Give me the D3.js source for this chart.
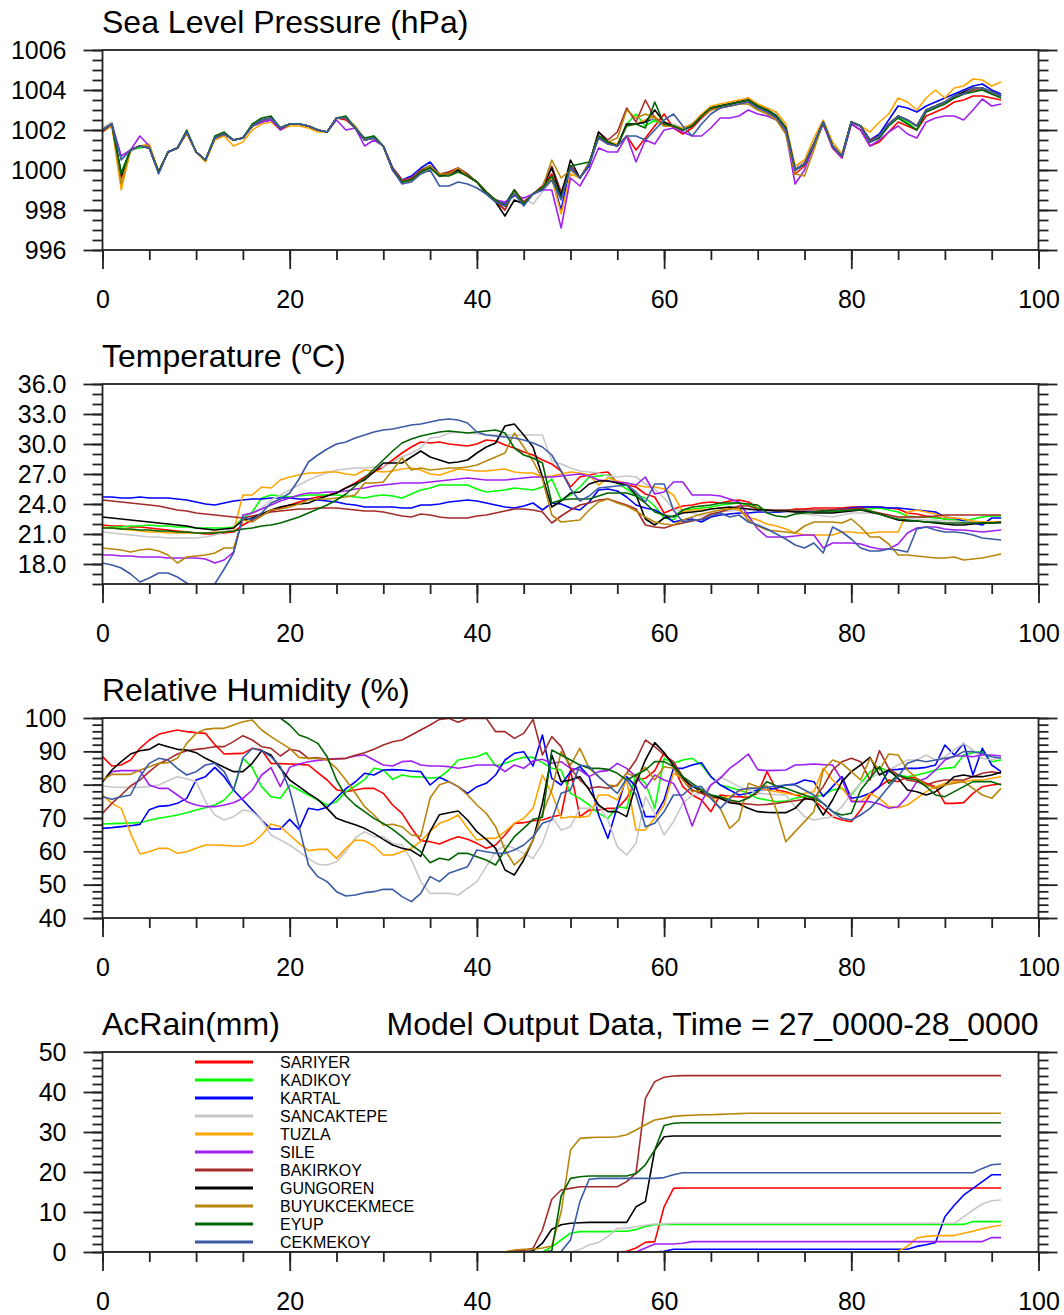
<!doctype html>
<html>
<head>
<meta charset="utf-8">
<title>Model Output Data, Time = 27_0000-28_0000</title>
<script src="https://d3js.org/d3.v7.min.js"></script>
<style>
  body { margin: 0; background: #fff; }
  svg text { font-family: "Liberation Sans", Arial, Helvetica, sans-serif; fill: #000; }
</style>
</head>
<body>
<script>
// ---- data: hourly values, one array per station ----
const hours = d3.range(0, 97);
const stations = ["SARIYER", "KADIKOY", "KARTAL", "SANCAKTEPE", "TUZLA", "SILE",
                  "BAKIRKOY", "GUNGOREN", "BUYUKCEKMECE", "EYUP", "CEKMEKOY"];
const colors = ["#ff0000", "#00ff00", "#0000ff", "#c8c8c8", "#ffa500", "#a020f0",
                "#a52a2a", "#000000", "#b8860b", "#006400", "#3b5ba5"];

const xTicks = [0, 20, 40, 60, 80, 100];
const slpTicks = [996, 998, 1000, 1002, 1004, 1006];
const tempTicks = [18, 21, 24, 27, 30, 33, 36];
const rhTicks = [40, 50, 60, 70, 80, 90, 100];
const rainTicks = [0, 10, 20, 30, 40, 50];

// sea level pressure (hPa)
const slpSariyer = [1001.9,1002.3,999.6,1001.0,1001.2,1001.1,999.9,1000.9,1001.1,1001.9,
1000.9,1000.5,1001.6,1001.8,1001.5,1001.6,1002.2,1002.5,1002.6,1002.1,
1002.3,1002.3,1002.2,1002.0,1001.9,1002.6,1002.5,1002.1,1001.5,1001.6,
1001.2,1000.1,999.5,999.6,999.9,1000.2,999.7,999.9,1000.1,999.7,
999.4,998.9,998.4,998.0,999.0,998.3,998.8,999.2,999.8,998.6,
1000.2,999.6,1000.3,1001.6,1001.3,1001.2,1001.7,1001.0,1001.6,1002.2,
1002.8,1002.1,1001.8,1002.1,1002.6,1003.0,1003.1,1003.2,1003.3,1003.4,
1003.1,1002.9,1002.6,1002.0,999.8,1000.2,1001.2,1002.3,1001.1,1000.6,
1002.3,1002.0,1001.2,1001.4,1001.9,1002.4,1002.2,1002.0,1002.7,1002.9,
1003.1,1003.4,1003.5,1003.7,1003.7,1003.6,1003.5];
const slpKadikoy = [1002.0,1002.2,999.9,1001.0,1001.1,1001.2,999.9,1000.9,1001.1,1001.9,
1000.9,1000.5,1001.6,1001.8,1001.5,1001.6,1002.2,1002.5,1002.6,1002.1,
1002.3,1002.3,1002.2,1002.0,1001.9,1002.6,1002.6,1002.1,1001.5,1001.7,
1001.2,1000.0,999.4,999.5,1000.0,1000.2,999.7,999.8,1000.0,999.8,
999.4,998.9,998.5,998.2,999.0,998.3,998.8,999.1,999.6,998.6,
1000.1,999.6,1000.3,1001.7,1001.4,1001.2,1002.3,1002.8,1002.2,1002.5,
1002.2,1002.2,1002.0,1002.2,1002.7,1003.1,1003.2,1003.3,1003.4,1003.5,
1003.2,1003.0,1002.7,1002.1,1000.0,1000.3,1001.3,1002.4,1001.2,1000.7,
1002.4,1002.2,1001.4,1001.7,1002.3,1002.7,1002.4,1002.0,1003.0,1003.2,
1003.4,1003.6,1003.8,1004.0,1004.1,1003.9,1003.7];
const slpKartal = [1002.0,1002.3,999.8,1001.0,1001.2,1001.1,999.9,1000.9,1001.1,1001.9,
1000.9,1000.5,1001.6,1001.8,1001.5,1001.6,1002.2,1002.4,1002.5,1002.1,
1002.3,1002.3,1002.2,1002.0,1001.9,1002.6,1002.6,1002.1,1001.5,1001.6,
1001.2,1000.1,999.5,999.7,1000.1,1000.4,999.8,999.8,1000.0,999.7,
999.4,998.9,998.5,998.3,999.0,998.4,998.8,999.1,999.6,998.0,
1000.2,999.6,1000.2,1001.7,1001.4,1001.2,1002.3,1002.3,1002.4,1002.6,
1002.2,1002.2,1002.0,1002.2,1002.7,1003.1,1003.2,1003.3,1003.4,1003.6,
1003.2,1003.0,1002.8,1002.2,1000.1,1000.4,1001.3,1002.4,1001.2,1000.7,
1002.4,1002.2,1001.5,1001.8,1002.5,1003.2,1003.1,1002.9,1003.2,1003.4,
1003.6,1003.8,1004.0,1004.2,1004.3,1004.0,1003.8];
const slpSancaktepe = [1002.1,1002.4,1000.6,1000.9,1001.2,1001.1,999.9,1000.9,1001.1,1001.9,
1000.9,1000.5,1001.6,1001.8,1001.5,1001.6,1002.2,1002.5,1002.6,1002.1,
1002.3,1002.3,1002.2,1002.0,1001.9,1002.6,1002.6,1002.1,1001.5,1001.6,
1001.2,1000.0,999.4,999.5,999.9,1000.2,999.7,999.8,1000.0,999.7,
999.4,998.9,998.5,998.4,998.7,998.6,998.3,998.9,999.5,998.9,
1000.0,999.6,1000.3,1001.7,1001.4,1001.3,1002.3,1002.3,1002.5,1002.6,
1002.2,1002.3,1002.1,1002.3,1002.7,1003.1,1003.3,1003.4,1003.5,1003.5,
1003.3,1003.1,1002.8,1002.2,1000.1,1000.4,1001.3,1002.4,1001.2,1000.7,
1002.4,1002.2,1001.4,1001.7,1002.3,1002.7,1002.5,1002.2,1003.0,1003.2,
1003.4,1003.7,1003.8,1004.0,1004.0,1003.8,1003.7];
const slpTuzla = [1001.9,1002.2,999.0,1001.0,1001.2,1001.3,999.9,1000.9,1001.1,1001.8,
1000.9,1000.4,1001.5,1001.7,1001.2,1001.4,1002.0,1002.3,1002.4,1002.0,
1002.2,1002.2,1002.1,1001.9,1001.9,1002.6,1002.6,1002.1,1001.5,1001.6,
1001.2,1000.0,999.4,999.5,999.9,1000.1,999.7,999.8,1000.0,999.7,
999.4,998.9,998.5,998.2,999.0,998.4,998.8,999.1,999.6,997.8,
999.8,999.6,1000.3,1001.7,1001.4,1001.3,1002.2,1002.3,1002.5,1002.7,
1002.2,1002.2,1002.1,1002.3,1002.8,1003.2,1003.3,1003.4,1003.5,1003.6,
1003.3,1003.1,1002.9,1002.3,1000.2,1000.5,1001.6,1002.5,1001.4,1000.8,
1002.4,1002.2,1001.9,1002.4,1002.8,1003.6,1003.4,1003.0,1003.6,1004.0,
1003.6,1004.1,1004.2,1004.55,1004.5,1004.2,1004.4];
const slpSile = [1002.0,1002.3,1000.7,1001.0,1001.7,1001.2,999.9,1000.9,1001.1,1001.9,
1000.9,1000.5,1001.6,1001.8,1001.5,1001.6,1002.2,1002.4,1002.5,1002.0,
1002.3,1002.3,1002.2,1002.0,1001.9,1002.5,1002.0,1002.1,1001.2,1001.5,
1001.2,1000.0,999.5,999.6,999.9,1000.2,999.7,999.8,1000.0,999.7,
999.4,998.9,998.5,998.4,998.7,998.6,998.8,999.0,999.0,997.1,
999.6,999.2,1000.0,1001.1,1000.9,1000.9,1001.7,1000.4,1001.5,1001.3,
1002.0,1002.1,1001.9,1001.7,1001.7,1002.1,1002.6,1002.6,1002.7,1003.0,
1002.8,1002.7,1002.5,1001.9,999.3,1000.0,1001.2,1002.3,1001.1,1000.6,
1002.3,1002.0,1001.2,1001.5,1001.9,1002.2,1001.8,1001.6,1002.4,1002.6,
1002.7,1002.7,1002.5,1003.0,1003.55,1003.2,1003.3];
const slpBakirkoy = [1001.9,1002.3,999.7,1001.0,1001.2,1001.1,999.9,1000.9,1001.1,1001.9,
1000.9,1000.5,1001.6,1001.8,1001.5,1001.6,1002.2,1002.5,1002.6,1002.1,
1002.3,1002.3,1002.2,1002.0,1001.9,1002.6,1002.6,1002.1,1001.5,1001.6,
1001.2,1000.1,999.5,999.6,1000.0,1000.2,999.8,999.9,1000.1,999.8,
999.4,998.9,998.5,998.0,999.0,998.4,998.8,999.2,1000.2,998.9,
1000.2,999.6,1000.3,1001.9,1001.5,1001.9,1003.1,1002.4,1003.5,1002.6,
1002.3,1002.2,1002.0,1002.2,1002.7,1003.1,1003.2,1003.3,1003.4,1003.5,
1003.2,1003.0,1002.7,1002.1,1000.0,1000.3,1001.3,1002.4,1001.2,1000.7,
1002.4,1002.2,1001.5,1001.7,1002.3,1002.7,1002.5,1002.2,1003.0,1003.2,
1003.4,1003.6,1003.8,1004.0,1004.0,1003.9,1003.7];
const slpGungoren = [1002.0,1002.3,999.7,1001.0,1001.2,1001.1,999.9,1000.9,1001.1,1001.9,
1000.9,1000.5,1001.6,1001.8,1001.5,1001.6,1002.2,1002.5,1002.6,1002.1,
1002.3,1002.3,1002.2,1002.0,1001.9,1002.6,1002.6,1002.1,1001.5,1001.6,
1001.2,1000.0,999.4,999.5,999.9,1000.2,999.7,999.8,1000.0,999.7,
999.4,998.8,998.4,997.7,998.5,998.3,998.8,999.1,1000.1,998.7,
1000.5,999.6,1000.3,1001.9,1001.4,1001.2,1002.3,1002.3,1002.4,1003.0,
1002.4,1002.2,1002.0,1002.2,1002.7,1003.1,1003.2,1003.3,1003.4,1003.5,
1003.2,1003.0,1002.7,1002.1,1000.0,1000.3,1001.3,1002.4,1001.2,1000.7,
1002.4,1002.2,1001.4,1001.7,1002.3,1002.7,1002.5,1002.2,1003.0,1003.2,
1003.4,1003.7,1003.9,1004.1,1004.1,1003.9,1003.7];
const slpBuyukcekmece = [1002.0,1002.3,999.3,1001.0,1001.2,1001.2,999.9,1000.9,1001.1,1001.9,
1000.9,1000.5,1001.6,1001.8,1001.5,1001.6,1002.2,1002.5,1002.6,1002.1,
1002.3,1002.3,1002.2,1002.0,1001.9,1002.6,1002.6,1002.2,1001.5,1001.6,
1001.2,1000.0,999.4,999.5,999.9,1000.2,999.8,999.8,1000.1,999.7,
999.4,998.9,998.5,998.2,998.9,998.3,998.8,999.1,1000.5,999.6,
1000.0,999.6,1000.4,1001.7,1001.4,1001.6,1003.0,1002.6,1002.8,1002.6,
1002.2,1002.2,1002.0,1002.3,1002.7,1003.0,1003.1,1003.2,1003.3,1003.3,
1003.0,1002.8,1002.5,1001.8,999.8,999.7,1001.0,1002.4,1001.2,1000.7,
1002.4,1002.2,1001.4,1001.7,1002.3,1002.7,1002.5,1002.2,1003.0,1003.2,
1003.4,1003.7,1003.8,1004.1,1004.1,1003.9,1003.7];
const slpEyup = [1002.0,1002.3,999.8,1001.0,1001.2,1001.1,999.9,1000.9,1001.1,1002.0,
1000.9,1000.5,1001.7,1001.9,1001.5,1001.6,1002.3,1002.6,1002.7,1002.1,
1002.3,1002.3,1002.2,1002.0,1001.9,1002.6,1002.7,1002.1,1001.6,1001.7,
1001.2,1000.0,999.4,999.5,999.9,1000.1,999.7,999.7,999.9,999.7,
999.4,998.9,998.5,998.2,999.0,998.3,998.8,999.1,999.7,998.6,
1000.2,1000.3,1000.4,1001.7,1001.4,1001.2,1002.2,1002.3,1002.1,1003.4,
1002.3,1002.2,1002.0,1002.2,1002.7,1003.1,1003.2,1003.3,1003.4,1003.5,
1003.2,1003.0,1002.7,1002.1,1000.0,1000.3,1001.3,1002.4,1001.2,1000.7,
1002.4,1002.2,1001.4,1001.6,1002.2,1002.6,1002.3,1002.0,1002.9,1003.1,
1003.3,1003.6,1003.8,1003.9,1004.0,1003.8,1003.6];
const slpCekmekoy = [1002.0,1002.3,1000.5,1001.0,1001.2,1001.1,999.8,1000.9,1001.1,1001.9,
1000.9,1000.5,1001.6,1001.8,1001.5,1001.6,1002.2,1002.5,1002.6,1002.1,
1002.3,1002.3,1002.2,1002.0,1001.9,1002.6,1002.6,1002.1,1001.5,1001.6,
1001.2,1000.0,999.3,999.4,999.8,1000.0,999.2,999.2,999.4,999.3,
999.1,998.8,998.4,998.2,998.8,998.2,998.8,999.0,999.5,998.5,
1000.1,999.6,1000.3,1001.6,1001.3,1001.2,1001.7,1001.7,1001.5,1002.0,
1002.5,1002.8,1002.2,1001.7,1002.3,1002.8,1003.1,1003.2,1003.3,1003.4,
1003.1,1002.9,1002.6,1002.0,1000.0,1000.3,1001.3,1002.4,1001.2,1000.7,
1002.4,1002.2,1001.4,1001.7,1002.3,1002.7,1002.5,1002.2,1003.0,1003.2,
1003.4,1003.7,1003.8,1004.1,1004.1,1003.9,1003.7];

// temperature (deg C)
const tempSariyer = [21.9,21.8,21.8,21.7,21.7,21.6,21.5,21.4,21.3,21.2,
21.1,21.0,21.0,21.1,21.2,21.9,22.4,22.9,23.3,23.6,
23.9,24.2,24.5,24.7,24.9,25.1,25.6,26.1,26.7,27.2,
27.7,28.4,29.1,29.7,30.2,30.1,30.2,30.0,29.9,29.8,
30.0,30.4,30.3,29.9,29.6,29.2,28.9,28.4,28.0,27.3,
25.7,26.7,26.9,27.1,27.2,26.1,25.9,25.7,25.0,24.7,
23.1,23.5,23.8,23.9,24.1,24.2,24.1,24.3,24.4,24.2,
23.6,23.3,23.2,23.3,23.5,23.5,23.6,23.6,23.6,23.6,
23.7,23.7,23.7,23.7,23.6,23.5,23.1,23.0,22.8,22.7,
22.5,22.4,22.2,22.2,22.2,22.2,22.2];
const tempKadikoy = [21.6,21.7,21.7,21.8,21.8,21.9,21.8,21.8,21.7,21.7,
21.6,21.6,21.6,21.6,21.7,22.6,23.2,24.6,24.9,24.8,
24.7,24.8,24.9,24.9,24.9,24.9,24.8,24.7,24.6,24.8,
24.9,24.8,24.6,25.0,25.4,25.6,25.9,25.9,25.9,25.9,
25.5,25.2,25.3,25.4,25.6,25.5,25.4,25.7,26.5,24.4,
24.9,25.7,26.7,26.8,26.9,26.1,25.5,24.9,24.6,23.8,
22.6,22.4,23.4,23.5,23.6,23.7,23.9,24.0,24.1,23.9,
23.6,23.4,23.2,23.3,23.3,23.2,23.2,23.2,23.2,23.3,
23.4,23.5,23.5,23.6,23.4,23.2,22.8,22.7,22.7,22.6,
22.5,22.4,22.3,22.5,22.7,22.8,22.8];
const tempKartal = [24.7,24.7,24.6,24.6,24.7,24.6,24.6,24.6,24.5,24.4,
24.2,24.0,23.9,24.1,24.3,24.4,24.5,24.5,24.6,24.6,
24.6,24.5,24.5,24.4,24.3,24.2,24.0,23.9,23.7,23.7,
23.7,23.7,23.6,23.6,23.9,23.9,24.0,24.2,24.3,24.4,
24.3,24.1,23.9,23.7,23.6,23.8,24.1,23.4,24.1,24.0,
23.6,23.4,24.2,25.4,25.5,25.3,24.7,23.9,23.6,23.4,
22.9,22.2,22.4,22.5,22.2,22.7,22.9,23.0,23.1,23.1,
23.2,23.2,23.2,23.2,23.2,23.2,23.2,23.3,23.4,23.5,
23.6,23.7,23.7,23.7,23.6,23.6,23.5,23.4,23.3,23.2,
22.7,22.6,22.3,22.1,21.9,22.6,22.6];
const tempSancaktepe = [21.2,21.1,21.0,20.9,20.8,20.7,20.7,20.6,20.6,20.6,
20.6,20.7,20.9,21.2,21.6,22.4,23.1,23.6,24.4,24.9,
25.4,25.9,26.4,26.8,27.1,27.4,27.5,27.6,27.6,27.7,
27.7,28.2,28.7,29.1,29.6,30.6,30.7,31.1,31.2,31.1,
31.0,30.9,30.9,30.9,30.9,30.9,30.9,30.9,28.3,28.0,
27.6,27.3,27.2,27.1,26.8,26.7,26.8,26.7,26.0,25.5,
24.6,23.5,23.2,23.1,22.8,23.0,23.2,23.3,23.4,23.4,
23.4,23.3,23.3,23.2,23.1,23.0,22.9,22.8,22.7,22.9,
23.1,23.1,23.1,23.0,22.9,22.7,22.6,22.5,22.4,22.4,
22.3,22.3,22.2,22.2,22.2,22.2,22.2];
const tempTuzla = [21.7,21.6,21.5,21.4,21.3,21.2,21.2,21.1,21.1,21.1,
21.1,21.1,21.2,21.2,21.3,24.9,24.9,25.7,25.6,26.4,
26.7,26.9,27.1,27.1,27.2,27.2,27.0,26.9,27.4,27.3,
27.2,27.3,27.5,27.6,27.4,27.0,26.9,27.2,27.5,27.4,
27.3,27.3,27.4,27.5,27.2,27.1,27.1,26.7,26.8,27.0,
27.2,27.1,26.9,25.9,26.6,26.3,26.1,25.9,25.7,25.7,
25.5,24.9,23.2,23.4,23.4,23.5,23.6,23.6,23.4,22.7,
22.4,22.0,21.8,21.5,21.1,20.9,20.9,20.9,20.9,21.2,
21.2,21.1,21.1,21.2,21.2,21.2,23.2,23.4,23.2,23.0,
22.7,22.6,22.5,22.3,22.2,22.2,22.2];
const tempSile = [18.9,18.9,18.8,18.8,18.7,18.7,18.7,18.6,18.6,18.6,
18.6,18.5,18.1,18.4,19.2,22.9,23.1,23.5,23.9,24.3,
24.6,24.9,25.1,25.1,25.2,25.2,25.3,25.5,25.6,25.8,
25.9,26.0,26.1,26.1,26.1,26.2,26.3,26.4,26.5,26.6,
26.5,26.4,26.4,26.4,26.5,26.6,26.7,26.7,26.7,26.8,
26.9,27.0,26.8,26.4,26.3,26.2,26.1,25.9,26.7,25.0,
25.2,26.2,26.2,24.9,24.9,24.9,24.8,24.5,24.2,22.8,
21.5,20.7,20.7,20.7,20.8,20.9,20.9,19.6,20.1,20.1,
20.1,20.0,19.7,19.5,19.5,20.0,21.1,21.6,21.7,21.7,
21.5,21.4,21.4,21.3,21.2,21.3,21.4];
const tempBakirkoy = [24.4,24.3,24.2,24.1,24.0,23.9,23.8,23.6,23.4,23.3,
23.1,23.0,22.9,22.8,22.7,22.6,22.8,23.0,23.2,23.3,
23.4,23.5,23.5,23.6,23.6,23.6,23.5,23.4,23.3,23.3,
23.2,23.0,22.8,22.7,23.0,22.9,22.7,22.6,22.6,22.6,
22.8,22.9,23.1,23.3,23.5,23.5,23.4,23.2,22.1,22.8,
23.4,23.9,24.1,24.4,24.5,24.2,23.9,23.5,21.9,21.7,
21.6,21.9,22.1,22.3,22.5,23.0,23.2,23.5,23.8,23.8,
23.5,23.4,23.4,23.4,23.4,23.4,23.4,23.4,23.4,23.5,
23.5,23.6,23.3,23.1,22.9,22.7,22.7,22.7,22.7,22.8,
22.9,22.9,22.9,22.9,22.9,22.9,22.9];
const tempGungoren = [22.7,22.6,22.5,22.4,22.3,22.2,22.1,22.0,21.9,21.8,
21.6,21.5,21.4,21.5,21.6,22.4,22.6,23.0,23.4,23.7,
23.9,24.0,24.1,24.5,24.8,25.1,25.6,26.0,26.4,27.2,
28.1,28.1,28.1,28.7,29.3,28.7,28.4,28.1,28.2,28.4,
29.1,29.7,30.1,31.8,32.0,30.9,29.7,26.7,23.7,24.3,
25.1,25.2,26.0,26.3,26.3,26.1,25.9,24.9,22.5,21.9,
22.6,22.8,23.1,23.2,23.3,23.5,23.6,23.7,23.6,23.5,
23.4,23.4,23.3,23.3,23.2,23.2,23.1,23.1,23.1,23.2,
23.3,23.4,23.2,23.0,22.7,22.4,22.3,22.3,22.2,22.1,
22.0,21.9,21.9,22.0,22.1,22.1,22.2];
const tempBuyukcekmece = [19.6,19.5,19.4,19.2,19.4,19.5,19.3,18.9,18.1,18.7,
18.8,18.9,19.1,19.6,19.6,22.4,22.2,22.8,23.4,23.5,
23.7,24.0,24.4,24.5,24.5,24.6,24.7,24.9,26.1,26.1,
26.2,27.4,28.6,27.4,27.6,27.4,27.5,27.6,27.6,27.7,
27.9,28.3,28.7,29.1,31.1,29.7,28.3,26.5,22.9,22.2,
22.3,22.4,23.4,24.2,24.5,24.1,23.8,23.3,22.7,22.2,
22.0,21.9,22.4,22.7,23.0,23.2,23.4,23.5,23.6,22.4,
21.8,21.4,21.3,21.2,21.1,21.8,22.2,22.2,22.2,22.1,
22.5,21.7,20.7,20.7,20.0,18.9,18.9,18.8,18.7,18.6,
18.6,18.7,18.4,18.5,18.6,18.8,19.0];
const tempEyup = [21.6,21.6,21.5,21.5,21.4,21.4,21.3,21.3,21.2,21.2,
21.1,21.1,21.1,21.2,21.3,21.5,21.6,21.8,21.9,22.1,
22.4,22.7,23.1,23.5,23.9,24.4,25.0,25.8,26.6,27.5,
28.4,29.3,30.1,30.5,30.8,31.0,31.2,31.3,31.2,31.1,
31.2,31.3,31.4,31.1,29.6,28.9,28.6,28.1,24.1,24.4,
24.5,24.5,24.5,24.8,25.1,25.1,25.1,24.8,24.1,23.2,
22.9,22.7,23.4,23.7,23.8,23.9,24.1,24.1,24.1,24.0,
23.9,23.1,22.8,22.7,23.0,23.1,23.2,23.3,23.3,23.3,
23.4,23.4,23.3,23.0,22.7,22.5,22.4,22.3,22.2,22.2,
22.1,22.1,22.1,22.1,22.1,22.1,22.1];
const tempCekmekoy = [18.1,17.9,17.6,17.0,16.2,16.6,17.1,17.1,16.7,16.1,
15.4,15.2,16.0,17.5,19.1,22.7,22.4,23.1,24.1,24.5,
25.1,26.5,28.2,28.9,29.5,30.0,30.2,30.6,30.9,31.2,
31.4,31.5,31.7,31.9,32.0,32.2,32.4,32.5,32.4,32.1,
31.2,30.9,30.8,30.7,30.6,30.4,30.1,29.7,28.9,27.3,
25.5,24.3,24.8,25.6,25.7,25.8,25.9,25.2,24.2,26.0,
26.0,23.4,22.2,22.4,22.4,22.8,23.1,22.7,22.9,22.2,
21.9,21.5,21.0,20.5,19.9,19.6,20.1,19.1,21.7,21.2,
20.5,19.6,19.3,19.3,19.5,19.4,19.2,21.5,21.7,21.4,
21.2,21.2,21.1,20.9,20.6,20.5,20.4];

// relative humidity (%)
const rhSariyer = [88.4,85.6,85.9,87.4,90.9,93.4,95.1,95.8,96.4,95.9,
95.6,95.4,92.0,89.2,89.3,89.4,90.9,90.4,86.4,86.3,
86.2,86.1,85.9,83.6,81.4,78.5,77.9,78.4,78.9,78.9,
77.4,73.9,71.4,67.0,63.2,62.9,62.2,63.4,64.4,63.6,
62.4,60.9,61.9,64.9,68.4,68.6,69.2,69.4,70.4,70.9,
84.4,70.4,72.4,72.4,72.9,72.9,75.9,81.4,81.9,84.2,
89.6,85.4,79.4,76.9,75.4,71.9,76.9,76.5,76.4,76.2,
77.4,83.9,78.4,77.9,76.9,76.2,75.4,72.9,70.4,69.4,
68.9,72.4,76.9,79.4,81.4,80.9,82.4,81.9,80.4,79.4,
74.4,74.4,74.6,77.4,79.4,79.9,80.2];
const rhKadikoy = [68.2,68.3,68.4,68.5,68.6,69.3,69.9,70.4,70.9,71.6,
72.4,73.1,73.9,75.4,78.4,87.9,85.2,79.4,76.4,75.9,
79.9,78.4,76.9,75.4,73.9,74.9,77.9,79.6,81.5,84.9,
84.4,81.6,82.9,82.4,82.3,82.0,82.2,84.4,87.4,87.9,
88.4,89.6,85.6,86.4,87.4,88.2,88.2,86.6,84.9,84.4,
77.4,75.9,73.9,71.4,69.9,73.4,72.9,83.2,80.4,72.9,
87.9,86.4,87.4,87.9,85.9,82.4,79.9,79.2,78.4,77.4,
75.9,75.4,74.9,75.1,75.9,76.4,76.4,76.9,78.4,78.9,
76.9,80.4,83.9,85.2,83.9,82.9,82.4,82.9,83.6,84.4,
84.9,85.2,88.9,89.6,89.9,86.9,87.4];
const rhKartal = [66.9,67.1,67.4,67.7,68.1,72.5,73.5,73.7,74.4,75.9,
81.4,82.4,85.2,82.4,78.4,75.4,72.4,69.4,66.7,66.7,
69.6,66.6,72.9,72.4,73.2,76.0,78.8,80.8,83.4,82.9,
84.4,84.5,84.4,84.1,83.9,79.9,82.2,80.9,79.4,77.4,
79.4,80.4,82.9,87.4,89.4,89.9,85.6,94.9,81.9,79.9,
83.9,85.4,82.4,70.9,63.9,73.4,82.4,79.4,70.4,70.4,
75.4,84.9,84.9,85.9,86.6,82.4,79.9,78.4,76.9,77.4,
78.4,78.6,78.9,79.9,80.2,81.4,80.9,76.4,79.4,82.4,
75.9,76.4,77.4,79.4,84.4,84.6,84.9,84.9,85.2,85.9,
91.9,88.9,92.4,82.9,90.9,85.9,83.9];
const rhSancaktepe = [79.6,79.3,79.2,79.2,79.2,79.5,79.9,81.2,82.4,81.8,
80.9,74.9,70.9,69.4,70.4,72.4,71.9,69.4,64.9,63.4,
61.9,59.9,57.9,56.1,55.9,56.9,59.9,64.0,65.9,64.4,
64.4,62.4,61.9,57.5,50.9,47.4,47.4,47.4,46.9,48.9,
50.9,55.4,59.9,61.9,60.9,59.4,57.9,62.4,70.4,66.4,
67.4,72.9,72.9,73.9,69.4,61.4,58.9,62.4,76.4,71.4,
64.9,68.9,74.4,76.9,77.4,79.9,82.4,80.9,79.4,78.4,
77.4,77.2,77.0,76.9,73.4,70.4,69.4,69.9,70.4,73.4,
77.4,80.4,81.9,83.4,84.4,85.9,87.4,87.4,88.9,87.4,
88.4,90.4,92.4,90.4,87.9,87.4,88.2];
const rhTuzla = [76.9,74.4,72.9,65.4,59.2,59.9,60.9,60.9,59.4,59.9,
60.9,61.9,61.9,61.8,61.6,61.6,62.4,64.9,68.2,67.4,
64.9,62.4,60.2,60.6,60.6,57.9,60.9,63.4,63.2,61.6,
58.9,58.9,59.9,60.9,63.0,66.0,68.4,69.4,70.9,66.9,
63.4,63.9,63.9,65.9,68.4,69.9,72.9,82.9,77.4,69.9,
70.4,70.2,70.6,76.9,76.9,75.4,81.4,66.4,66.4,69.9,
73.9,83.4,81.9,78.4,77.4,75.9,75.9,76.5,78.0,79.0,
79.0,78.4,77.9,77.4,76.9,77.4,77.9,84.9,81.4,78.9,
75.4,74.9,77.4,75.9,73.4,73.1,73.9,75.9,77.9,79.4,
80.4,80.9,80.9,81.4,81.4,81.9,82.4];
const rhSile = [80.9,83.9,84.2,84.2,84.2,79.9,78.9,78.9,76.9,74.9,
73.9,73.4,73.4,73.9,74.6,75.9,78.4,82.9,85.1,79.4,
85.2,86.2,86.9,87.3,87.6,87.8,87.9,88.6,88.9,87.4,
85.9,85.6,86.9,87.1,85.9,85.6,85.6,85.4,84.9,85.4,
85.9,85.9,85.9,83.9,85.9,84.9,87.1,87.6,86.4,86.9,
84.9,84.4,82.4,83.9,84.2,86.4,84.9,82.4,78.9,82.9,
81.4,80.4,75.4,67.6,74.9,79.9,81.9,84.9,86.9,89.2,
84.5,84.2,84.3,84.4,85.9,86.0,86.2,86.0,85.9,81.4,
74.9,74.9,74.9,74.2,72.9,73.4,76.4,80.9,81.9,84.4,
87.4,88.6,88.6,88.4,88.9,88.9,88.6];
const rhBakirkoy = [71.4,74.4,76.9,79.6,81.4,83.9,86.2,87.6,89.2,90.2,
90.6,90.9,91.4,91.4,92.9,94.7,93.4,91.4,90.9,88.6,
90.6,90.1,87.9,88.1,87.6,87.7,87.9,88.8,89.6,90.6,
91.9,92.9,93.4,94.9,96.4,97.9,99.6,99.9,98.7,99.9,
99.9,99.9,95.9,95.9,93.9,95.4,99.6,88.9,94.4,91.4,
84.9,81.4,78.9,79.4,78.9,79.9,83.4,87.4,93.4,91.4,
88.9,86.9,82.4,78.4,77.4,76.4,75.9,74.9,74.4,74.2,
73.9,74.1,74.4,74.8,75.2,75.6,75.9,79.4,84.4,86.9,
87.9,86.9,81.4,90.2,84.9,82.9,81.4,80.9,79.9,80.9,
81.4,81.4,81.4,82.4,83.4,83.9,83.4];
const rhGungoren = [80.9,84.4,86.9,89.2,90.2,90.6,92.2,91.4,90.6,90.4,
89.6,87.9,86.6,85.2,83.9,83.9,86.4,90.2,88.9,84.9,
81.4,79.4,77.4,75.6,72.9,69.9,68.9,68.0,66.9,65.4,
63.6,61.9,60.9,60.3,58.5,66.0,71.0,71.6,72.1,69.4,
65.9,63.6,60.9,54.4,52.9,57.4,63.4,74.4,88.9,80.9,
81.4,82.4,78.4,73.9,71.9,71.9,70.4,80.4,87.4,92.6,
89.6,85.9,81.9,79.6,77.9,76.9,75.9,74.6,74.2,72.9,
71.9,71.7,71.6,71.6,72.9,75.9,75.4,70.9,75.4,80.9,
83.9,85.9,88.2,82.9,84.4,81.9,78.4,77.9,76.9,77.9,
79.9,82.4,82.9,82.4,82.4,82.9,83.7];
const rhBuyukcekmece = [81.4,83.1,83.1,83.1,84.4,85.4,86.4,86.6,87.9,92.4,
95.4,96.6,96.9,96.9,97.9,98.9,99.4,96.4,94.4,92.6,
90.9,88.2,87.9,87.9,87.4,84.9,81.4,77.5,73.4,70.9,
67.9,68.1,67.4,64.9,64.5,76.0,80.0,80.9,79.4,76.9,
73.9,71.4,67.4,60.4,55.9,58.4,63.4,71.4,78.4,89.9,
85.9,90.9,84.9,82.4,79.9,79.6,83.4,82.4,85.2,81.4,
85.4,84.9,81.4,77.9,78.4,76.4,72.9,66.9,69.4,80.4,
79.4,79.6,72.4,62.9,65.9,68.9,71.9,84.4,87.4,86.4,
83.9,81.4,87.9,84.4,89.2,88.9,84.4,81.9,79.9,78.9,
79.9,80.4,80.9,78.9,76.9,75.9,78.9];
const rhEyup = [100,100,100,100,100,100,100,100,100,100,
100,100,100,100,100,100,100,100,100,100,
97.9,94.9,93.9,92.4,88.4,81.4,76.6,73.9,71.9,69.9,
68.4,66.6,64.4,61.9,59.9,56.6,57.9,57.4,59.4,59.4,
58.4,57.4,55.9,60.4,64.4,66.9,69.6,70.2,90.4,88.9,
87.4,85.9,84.9,84.9,84.6,83.4,81.4,82.9,84.4,86.9,
86.9,85.4,82.4,80.4,78.4,76.9,76.4,75.4,74.9,76.0,
78.0,80.9,79.6,78.9,77.9,76.9,75.9,74.4,71.9,70.9,
71.4,78.4,81.9,85.4,80.4,82.9,81.9,81.4,79.4,76.9,
76.4,77.9,79.4,80.9,80.9,80.9,79.9];
const rhCekmekoy = [76.4,75.6,76.4,76.9,82.4,86.4,87.9,87.4,84.9,82.9,
83.9,85.9,86.4,83.9,78.4,88.0,90.9,90.2,88.4,85.4,
78.4,67.4,55.9,52.4,50.9,47.9,46.6,46.9,47.6,47.9,
48.6,48.6,46.4,44.9,47.4,52.4,50.9,53.4,54.4,55.4,
60.4,59.9,59.4,59.4,60.4,61.9,64.4,68.4,69.4,77.4,
78.4,85.9,85.4,82.4,79.9,77.4,81.9,76.9,67.4,68.4,
71.9,76.9,76.9,79.4,79.4,75.9,72.9,75.8,78.4,78.9,
78.9,79.2,79.6,79.9,79.9,78.4,76.9,74.4,71.9,69.9,
69.4,70.9,72.9,75.9,79.4,82.4,86.4,87.4,86.9,87.4,
87.9,88.4,89.9,89.9,89.4,88.4,87.9];

// accumulated rain (mm)
const rainSariyer = [0,0,0,0,0,0,0,0,0,0, 0,0,0,0,0,0,0,0,0,0, 0,0,0,0,0,0,0,0,0,0,
0,0,0,0,0,0,0,0,0,0, 0,0,0,0,0,0,0,0,0,0,
0,0,0,0,0,0,0.2,1.0,2.4,2.6,
11.3,15.9,16,16,16,16,16,16,16,16,
16,16,16,16,16,16,16,16,16,16,
16,16,16,16,16,16,16,16,16,16,
16,16,16,16,16,16,16];
const rainKadikoy = [0,0,0,0,0,0,0,0,0,0, 0,0,0,0,0,0,0,0,0,0, 0,0,0,0,0,0,0,0,0,0,
0,0,0,0,0,0,0,0,0,0, 0,0,0,0,0,0,0,0,1.3,3.0,
4.7,5.1,5.1,5.1,5.1,5.2,5.2,5.6,6.4,6.8,
6.9,6.9,6.9,6.9,6.9,6.9,6.9,6.9,6.9,6.9,
6.9,6.9,6.9,6.9,6.9,6.9,6.9,6.9,6.9,6.9,
6.9,6.9,6.9,6.9,6.9,6.9,6.9,6.9,6.9,6.9,
6.9,6.9,6.9,7.6,7.6,7.6,7.6];
const rainKartal = [0,0,0,0,0,0,0,0,0,0, 0,0,0,0,0,0,0,0,0,0, 0,0,0,0,0,0,0,0,0,0,
0,0,0,0,0,0,0,0,0,0, 0,0,0,0,0,0,0,0,0,0,
0,0,0,0,0,0,0,0,0,0,
0.2,0.7,0.7,0.7,0.7,0.7,0.7,0.7,0.7,0.7,
0.7,0.7,0.7,0.7,0.7,0.7,0.7,0.7,0.7,0.7,
0.7,0.7,0.7,0.7,0.7,0.7,0.7,1.4,1.8,2.4,
8.8,11.7,14.2,15.9,17.6,19.3,19.3];
const rainSancaktepe = [0,0,0,0,0,0,0,0,0,0, 0,0,0,0,0,0,0,0,0,0, 0,0,0,0,0,0,0,0,0,0,
0,0,0,0,0,0,0,0,0,0, 0,0,0,0,0,0,0,0,0,0,
0,0.6,1.8,2.4,3.9,5.9,5.9,6.3,6.7,7.0,
7.0,7.2,7.2,7.2,7.2,7.2,7.2,7.2,7.2,7.2,
7.2,7.2,7.2,7.2,7.2,7.2,7.2,7.2,7.2,7.2,
7.2,7.2,7.2,7.2,7.2,7.2,7.2,7.2,7.2,7.2,
7.2,7.2,8.8,10.5,12.0,12.8,13.0];
const rainTuzla = [0,0,0,0,0,0,0,0,0,0, 0,0,0,0,0,0,0,0,0,0, 0,0,0,0,0,0,0,0,0,0,
0,0,0,0,0,0,0,0,0,0, 0,0,0,0,0,0,0,0,0,0,
0,0,0,0,0,0,0,0,0,0, 0,0,0,0,0,0,0,0,0,0,
0,0,0,0,0,0,0,0,0,0,
0,0,0,0,0,0.2,1.4,3.5,3.9,4.1,
4.1,4.1,4.7,5.2,5.8,6.3,6.7];
const rainSile = [0,0,0,0,0,0,0,0,0,0, 0,0,0,0,0,0,0,0,0,0, 0,0,0,0,0,0,0,0,0,0,
0,0,0,0,0,0,0,0,0,0, 0,0,0,0,0,0,0,0,0,0,
0,0,0,0,0,0,0,0,1.0,2.0,
2.0,2.0,2.2,2.6,2.6,2.6,2.6,2.6,2.6,2.6,
2.6,2.6,2.6,2.6,2.6,2.6,2.6,2.6,2.6,2.6,
2.6,2.6,2.6,2.6,2.6,2.6,2.6,2.6,2.6,2.6,
2.6,2.6,2.6,2.6,2.6,3.6,3.6];
const rainBakirkoy = [0,0,0,0,0,0,0,0,0,0, 0,0,0,0,0,0,0,0,0,0, 0,0,0,0,0,0,0,0,0,0,
0,0,0,0,0,0,0,0,0,0,
0,0,0,0,0.3,0.4,0.9,5.5,13.2,15.5,
15.9,16.3,16.3,16.3,16.3,16.3,17.6,19.7,38.4,42.6,
43.7,44.0,44.1,44.1,44.1,44.1,44.1,44.1,44.1,44.1,
44.1,44.1,44.1,44.1,44.1,44.1,44.1,44.1,44.1,44.1,
44.1,44.1,44.1,44.1,44.1,44.1,44.1,44.1,44.1,44.1,
44.1,44.1,44.1,44.1,44.1,44.1,44.1];
const rainGungoren = [0,0,0,0,0,0,0,0,0,0, 0,0,0,0,0,0,0,0,0,0, 0,0,0,0,0,0,0,0,0,0,
0,0,0,0,0,0,0,0,0,0,
0,0,0,0,0,0,0.3,2.2,5.7,6.8,
7.2,7.3,7.4,7.4,7.4,7.4,7.4,11.3,12.6,25.5,
28.8,29.0,29.0,29.0,29.0,29.0,29.0,29.0,29.0,29.0,
29.0,29.0,29.0,29.0,29.0,29.0,29.0,29.0,29.0,29.0,
29.0,29.0,29.0,29.0,29.0,29.0,29.0,29.0,29.0,29.0,
29.0,29.0,29.0,29.0,29.0,29.0,29.0];
const rainBuyukcekmece = [0,0,0,0,0,0,0,0,0,0, 0,0,0,0,0,0,0,0,0,0, 0,0,0,0,0,0,0,0,0,0,
0,0,0,0,0,0,0,0,0,0,
0,0,0,0,0.5,0.7,0.7,1.0,1.5,10.0,
25.5,28.4,28.6,28.7,28.7,28.8,29.3,30.5,31.8,33.0,
33.4,33.9,34.1,34.2,34.3,34.3,34.4,34.5,34.6,34.7,
34.7,34.7,34.7,34.7,34.7,34.7,34.7,34.7,34.7,34.7,
34.7,34.7,34.7,34.7,34.7,34.7,34.7,34.7,34.7,34.7,
34.7,34.7,34.7,34.7,34.7,34.7,34.7];
const rainEyup = [0,0,0,0,0,0,0,0,0,0, 0,0,0,0,0,0,0,0,0,0, 0,0,0,0,0,0,0,0,0,0,
0,0,0,0,0,0,0,0,0,0,
0,0,0,0,0,0,0,0,0.3,14.0,
18.4,18.8,19.0,19.0,19.0,19.0,19.0,19.6,21.8,25.5,
31.6,32.2,32.3,32.3,32.3,32.3,32.3,32.3,32.3,32.3,
32.3,32.3,32.3,32.3,32.3,32.3,32.3,32.3,32.3,32.3,
32.3,32.3,32.3,32.3,32.3,32.3,32.3,32.3,32.3,32.3,
32.3,32.3,32.3,32.3,32.3,32.3,32.3];
const rainCekmekoy = [0,0,0,0,0,0,0,0,0,0, 0,0,0,0,0,0,0,0,0,0, 0,0,0,0,0,0,0,0,0,0,
0,0,0,0,0,0,0,0,0,0,
0,0,0,0,0,0,0,0,0,0.1,
3.0,12.6,18.2,18.4,18.4,18.4,18.4,18.4,18.4,18.4,
18.6,19.3,19.8,19.8,19.8,19.8,19.8,19.8,19.8,19.8,
19.8,19.8,19.8,19.8,19.8,19.8,19.8,19.8,19.8,19.8,
19.8,19.8,19.8,19.8,19.8,19.8,19.8,19.8,19.8,19.8,
19.8,19.8,19.8,19.8,20.9,21.8,22.0];

const slpSeries = [slpSariyer, slpKadikoy, slpKartal, slpSancaktepe, slpTuzla, slpSile,
  slpBakirkoy, slpGungoren, slpBuyukcekmece, slpEyup, slpCekmekoy];
const tempSeries = [tempSariyer, tempKadikoy, tempKartal, tempSancaktepe, tempTuzla, tempSile,
  tempBakirkoy, tempGungoren, tempBuyukcekmece, tempEyup, tempCekmekoy];
const rhSeries = [rhSariyer, rhKadikoy, rhKartal, rhSancaktepe, rhTuzla, rhSile,
  rhBakirkoy, rhGungoren, rhBuyukcekmece, rhEyup, rhCekmekoy];
const rainSeries = [rainSariyer, rainKadikoy, rainKartal, rainSancaktepe, rainTuzla, rainSile,
  rainBakirkoy, rainGungoren, rainBuyukcekmece, rainEyup, rainCekmekoy];

// ---- layout ----
const W = 1064, H = 1315;
const left = 102.5, right = 1038.5, ph = 200;
const axisColor = "#222";

const svg = d3.select("body").append("svg").attr("width", W).attr("height", H);
const x = d3.scaleLinear().domain([0, 100]).range([left, right]);

const panels = [
  {top: 50,   series: slpSeries,  domain: [996, 1006], ticks: slpTicks,  minorStep: 0.5, fmt: d3.format("d")},
  {top: 384,  series: tempSeries, domain: [16, 36],    ticks: tempTicks, minorStep: 1,   fmt: d3.format(".1f")},
  {top: 718,  series: rhSeries,   domain: [40, 100],   ticks: rhTicks,   minorStep: 2,   fmt: d3.format("d")},
  {top: 1052, series: rainSeries, domain: [0, 50],     ticks: rainTicks, minorStep: 2,   fmt: d3.format("d")}
];

function styleAxis(g) {
  g.select(".domain").remove();
  g.selectAll(".tick line").attr("stroke", axisColor).attr("stroke-width", 1.8);
  g.selectAll(".tick text").attr("font-size", 25).attr("fill", "#000")
    .attr("font-family", "'Liberation Sans', Arial, Helvetica, sans-serif");
}

panels.forEach((p, pi) => {
  const y = d3.scaleLinear().domain(p.domain).range([p.top + ph, p.top]);
  const minors = d3.range(p.domain[0], p.domain[1] + 1e-6, p.minorStep);

  svg.append("clipPath").attr("id", "clip" + pi)
    .append("rect").attr("x", left).attr("y", p.top).attr("width", right - left).attr("height", ph);

  const line = d3.line().x((d, i) => x(hours[i])).y(d => y(d));
  svg.append("g").attr("clip-path", `url(#clip${pi})`)
    .selectAll("path").data(p.series).join("path")
    .attr("d", line)
    .attr("fill", "none")
    .attr("stroke", (d, i) => colors[i])
    .attr("stroke-width", 1.6)
    .attr("stroke-linejoin", "round");

  // left axis: minor, then major with labels
  svg.append("g").attr("transform", `translate(${left},0)`)
    .call(d3.axisLeft(y).tickValues(minors).tickSize(10).tickFormat("")).call(styleAxis);
  svg.append("g").attr("transform", `translate(${left},0)`)
    .call(d3.axisLeft(y).tickValues(p.ticks).tickSize(19).tickPadding(17).tickFormat(p.fmt)).call(styleAxis);
  // right axis ticks only
  svg.append("g").attr("transform", `translate(${right},0)`)
    .call(d3.axisRight(y).tickValues(minors).tickSize(10).tickFormat("")).call(styleAxis);
  svg.append("g").attr("transform", `translate(${right},0)`)
    .call(d3.axisRight(y).tickValues(p.ticks).tickSize(19).tickFormat("")).call(styleAxis);
  // bottom axis
  svg.append("g").attr("transform", `translate(0,${p.top + ph})`)
    .call(d3.axisBottom(x).tickValues(d3.range(0, 101, 5)).tickSize(10).tickFormat("")).call(styleAxis);
  svg.append("g").attr("transform", `translate(0,${p.top + ph})`)
    .call(d3.axisBottom(x).tickValues(xTicks).tickSize(19).tickPadding(21).tickFormat(d3.format("d"))).call(styleAxis);

  svg.append("rect").attr("x", left).attr("y", p.top).attr("width", right - left).attr("height", ph)
    .attr("fill", "none").attr("stroke", axisColor).attr("stroke-width", 1.8);
});

// ---- titles ----
svg.append("text").attr("x", left - 0.5).attr("y", 33).attr("font-size", 32).text("Sea Level Pressure (hPa)");
const tt = svg.append("text").attr("x", left - 0.5).attr("y", 367).attr("font-size", 32);
tt.append("tspan").text("Temperature (");
tt.append("tspan").attr("font-size", 19).attr("dy", -13).text("o");
tt.append("tspan").attr("font-size", 32).attr("dy", 13).text("C)");
svg.append("text").attr("x", left - 0.5).attr("y", 701).attr("font-size", 32).text("Relative Humidity (%)");
svg.append("text").attr("x", left - 0.5).attr("y", 1035).attr("font-size", 32).text("AcRain(mm)");
svg.append("text").attr("x", right).attr("y", 1035).attr("font-size", 32).attr("text-anchor", "end")
  .text("Model Output Data, Time = 27_0000-28_0000");

// ---- legend ----
const legend = svg.append("g").selectAll("g").data(stations).join("g")
  .attr("transform", (d, i) => `translate(0,${1062 + i * 18})`);
legend.append("line").attr("x1", 195).attr("x2", 253)
  .attr("stroke", (d, i) => colors[i]).attr("stroke-width", 3);
legend.append("text").attr("x", 280).attr("dy", "0.36em").attr("font-size", 16).attr("fill", "#222")
  .text(d => d);
</script>
</body>
</html>
